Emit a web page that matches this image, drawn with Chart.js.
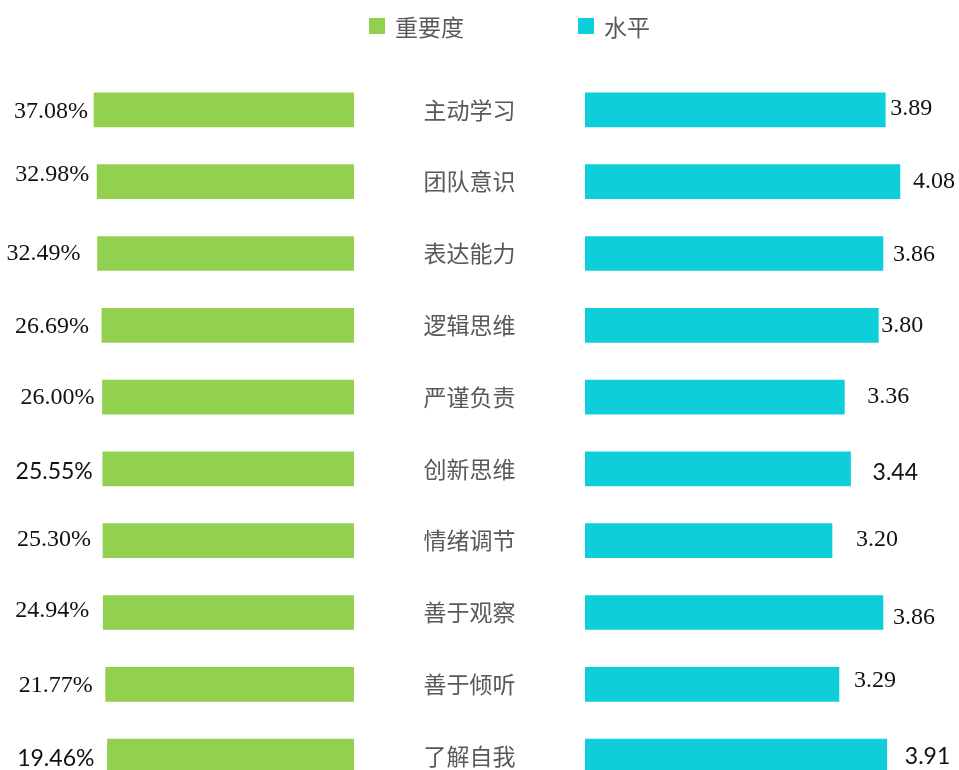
<!DOCTYPE html>
<html>
<head>
<meta charset="utf-8">
<script src="https://cdn.jsdelivr.net/npm/chart.js@4.4.1/dist/chart.umd.min.js"></script>
<style>
  html, body { margin: 0; padding: 0; background: #fff; overflow: hidden; }
  #wrap { position: relative; width: 959px; height: 770px; overflow: hidden; }
  #leftBox { position: absolute; left: 0; top: 0; width: 585px; height: 800px; }
  #rightBox { position: absolute; left: 585px; top: 0; width: 374px; height: 800px; }
  .key { position: absolute; top: 14px; height: 24px; display: flex; align-items: center;
         font: 23px "Noto Sans CJK SC", sans-serif; color: #595959; }
  .key i { display: inline-block; width: 16px; height: 16px; margin-right: 10px; }
</style>
</head>
<body>
<div id="wrap">
  <div id="leftBox"><canvas id="leftChart"></canvas></div>
  <div id="rightBox"><canvas id="rightChart"></canvas></div>
  <div class="key" style="left:369px"><i style="background:#92D050"></i>重要度</div>
  <div class="key" style="left:578px"><i style="background:#0ECFD9"></i>水平</div>
</div>
<script>
const categories = ['主动学习', '团队意识', '表达能力', '逻辑思维', '严谨负责',
                    '创新思维', '情绪调节', '善于观察', '善于倾听', '了解自我'];
const importance = [37.08, 32.98, 32.49, 26.69, 26.00, 25.55, 25.30, 24.94, 21.77, 19.46];
const level = [3.89, 4.08, 3.86, 3.80, 3.36, 3.44, 3.20, 3.86, 3.29, 3.91];

// label placement tweaks (gap from bar end, vertical shift) per row
const leftGap = [6, 8, 17, 13, 8, 10, 12, 14, 13, 13];
const leftDy = [2, -7, 0, 1, 1, 3, -1, -2, 1, 2];
const rightGap = [5, 13, 10, 3, 23, 22, 24, 10, 15, 18];
const rightDy = [-1, 0, 1, 0, 0, 4, -1, 5, -4, 0];
const sansRows = [5, 9];

const GREEN = '#92D050';
const CYAN = '#0ECFD9';
const MID_GAP = 231; // room between the two bar groups for the category names

function valueLabels(side) {
  return {
    id: 'valueLabels',
    afterDatasetsDraw(chart) {
      const ctx = chart.ctx;
      const meta = chart.getDatasetMeta(0);
      const values = chart.data.datasets[0].data;
      ctx.save();
      ctx.fillStyle = '#111';
      ctx.textBaseline = 'middle';
      meta.data.forEach((bar, i) => {
        const sans = sansRows.includes(i);
        ctx.font = sans ? '23px Lato, sans-serif' : '24px "Liberation Serif", serif';
        if (side === 'left') {
          ctx.textAlign = 'right';
          ctx.fillText(values[i].toFixed(2) + '%', bar.x - leftGap[i], bar.y + leftDy[i]);
        } else {
          ctx.textAlign = 'left';
          ctx.fillText(values[i].toFixed(2), bar.x + rightGap[i], bar.y + rightDy[i]);
        }
      });

      // category names sit in the gap to the right of the green bars
      if (side === 'left') {
        const y = chart.scales.y;
        const cx = chart.chartArea.right + MID_GAP / 2;
        ctx.font = '23px "Noto Sans CJK SC", sans-serif';
        ctx.fillStyle = '#595959';
        ctx.textAlign = 'center';
        chart.data.labels.forEach((name, i) => {
          ctx.fillText(name, cx, y.getPixelForTick(i));
        });
      }
      ctx.restore();
    }
  };
}

new Chart(document.getElementById('leftChart'), {
  type: 'bar',
  data: {
    labels: categories,
    datasets: [{
      label: '重要度',
      data: importance,
      backgroundColor: GREEN,
      base: -305,
      barThickness: 34
    }]
  },
  options: {
    indexAxis: 'y',
    responsive: true,
    maintainAspectRatio: false,
    animation: false,
    layout: { padding: { top: 74, bottom: 8, left: 0, right: MID_GAP } },
    plugins: { legend: { display: false }, tooltip: { enabled: false } },
    scales: {
      x: { reverse: true, min: -305, max: 160.8, display: false },
      y: { display: false }
    }
  },
  plugins: [valueLabels('left')]
});

new Chart(document.getElementById('rightChart'), {
  type: 'bar',
  data: {
    labels: categories,
    datasets: [{
      label: '水平',
      data: level,
      backgroundColor: CYAN,
      barThickness: 34
    }]
  },
  options: {
    indexAxis: 'y',
    responsive: true,
    maintainAspectRatio: false,
    animation: false,
    layout: { padding: { top: 74, bottom: 8, left: 0, right: 0 } },
    plugins: { legend: { display: false }, tooltip: { enabled: false } },
    scales: {
      x: { min: 0, max: 4.845, display: false },
      y: { display: false }
    }
  },
  plugins: [valueLabels('right')]
});
</script>
</body>
</html>
